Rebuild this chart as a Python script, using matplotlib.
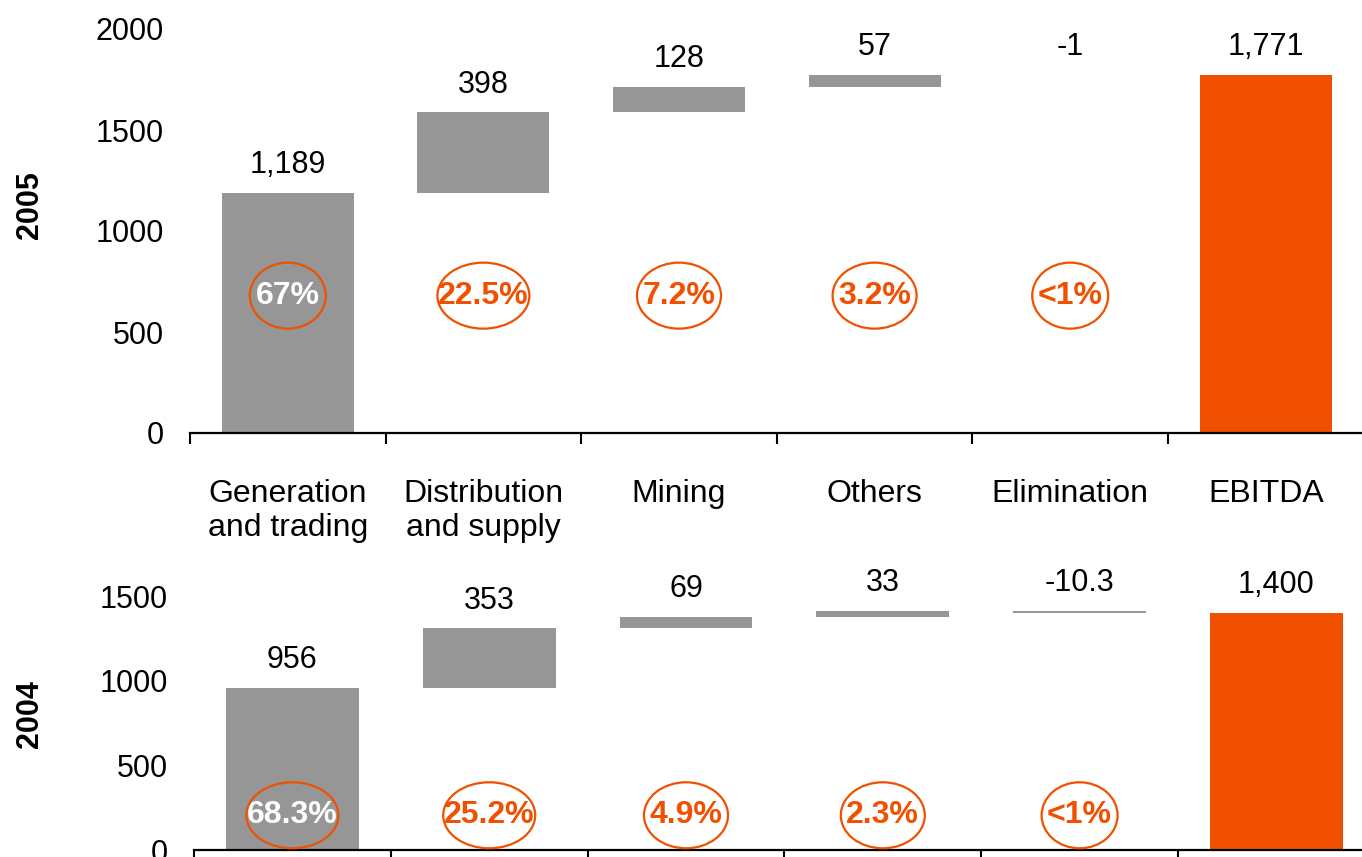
import matplotlib.pyplot as plt
from matplotlib.patches import Ellipse

plt.rcParams["font.family"] = ["Liberation Sans", "DejaVu Sans"]

W, H = 1362, 857
GREY = "#969696"
ORANGE = "#F05000"

categories = ["Generation\nand trading", "Distribution\nand supply", "Mining",
              "Others", "Elimination", "EBITDA"]

# 2005 (top panel)
steps_2005 = [1189, 398, 128, 57, -1]
total_2005 = 1771
labels_2005 = ["1,189", "398", "128", "57", "-1", "1,771"]
shares_2005 = ["67%", "22.5%", "7.2%", "3.2%", "<1%"]

# 2004 (bottom panel)
steps_2004 = [956, 353, 69, 33, -10.3]
total_2004 = 1400
labels_2004 = ["956", "353", "69", "33", "-10.3", "1,400"]
shares_2004 = ["68.3%", "25.2%", "4.9%", "2.3%", "<1%"]


def draw_panel(ax, steps, total, labels, shares, ymax, yticks, share_y):
    n = len(steps)
    bottoms, heights = [], []
    run = 0
    for v in steps:
        bottoms.append(run if v >= 0 else run + v)
        heights.append(abs(v))
        run += v
    ax.bar(range(n), heights, bottom=bottoms, width=0.675, color=GREY)
    ax.bar(n, total, width=0.675, color=ORANGE)

    ax.set_xlim(-0.5, n + 0.5)
    ax.set_ylim(0, ymax)

    tops = [b + h for b, h in zip(bottoms, heights)] + [total]
    for x, top, lab in zip(range(n + 1), tops, labels):
        ax.annotate(lab, (x, top), xytext=(0, 20), textcoords="offset points",
                    ha="center", va="center", fontsize=22, annotation_clip=False)

    # share bubbles
    pos = ax.get_position()
    px_y = pos.height * H / ymax
    px_x = pos.width * W / (n + 1)
    for i, s in enumerate(shares):
        color = "white" if i == 0 else ORANGE
        ax.text(i, share_y, s, ha="center", va="center", fontsize=23,
                fontweight="bold", color=color, zorder=4)
        w_px = 84 + 8 * (len(s) - 4)
        ax.add_patch(Ellipse((i, share_y), w_px / px_x, 66 / px_y, fill=False,
                             edgecolor=ORANGE, lw=1.6, clip_on=False, zorder=5))

    for s in ["top", "left", "right"]:
        ax.spines[s].set_visible(False)
    ax.spines["bottom"].set_linewidth(1.6)
    ax.set_xticks([i - 0.5 for i in range(n + 2)])
    ax.set_xticklabels([])
    ax.tick_params(axis="x", direction="out", length=8, width=1.5)
    ax.set_yticks(yticks)
    ax.tick_params(axis="y", length=0, pad=19, labelsize=22)


fig = plt.figure(figsize=(W / 100, H / 100), dpi=100)

ax1 = fig.add_axes([190 / W, 1 - 433 / H, 6 * 195.6 / W, (433 - 29) / H])
draw_panel(ax1, steps_2005, total_2005, labels_2005, shares_2005,
           2000, [0, 500, 1000, 1500, 2000], 680)

ax2 = fig.add_axes([194 / W, 1 - 850 / H, 6 * 196.8 / W, (850 - 596) / H])
draw_panel(ax2, steps_2004, total_2004, labels_2004, shares_2004,
           1500, [0, 500, 1000, 1500], 205)

for i, cat in enumerate(categories):
    ax1.annotate(cat, (i, 0), xytext=(0, -33), textcoords="offset points",
                 ha="center", va="top", fontsize=23, linespacing=1.2,
                 annotation_clip=False)

fig.text(30 / W, 1 - 205 / H, "2005", rotation=90, fontsize=22,
         fontweight="bold", ha="center", va="center")
fig.text(30 / W, 1 - 714 / H, "2004", rotation=90, fontsize=22,
         fontweight="bold", ha="center", va="center")

fig.savefig("out.png", dpi=100)
